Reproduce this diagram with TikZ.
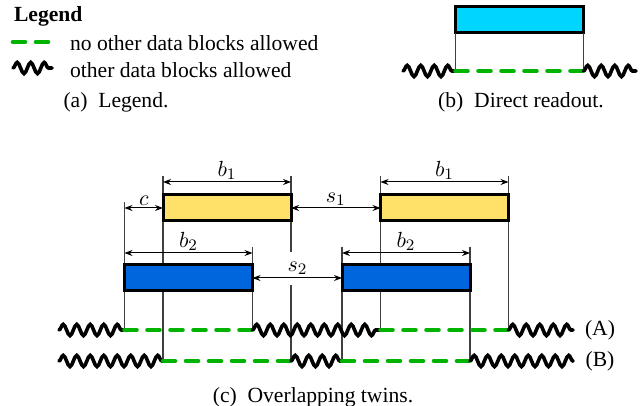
\documentclass[tikz,border=0pt]{standalone}
\usepackage[no-math]{fontspec}
\setmainfont{Liberation Serif}
\usepackage{tikz}
\usetikzlibrary{arrows.meta,calc,positioning,decorations.pathmorphing,backgrounds}
\definecolor{okg}{HTML}{00B300}
\definecolor{yel}{HTML}{FFE169}
\definecolor{blu}{HTML}{0066DD}
\definecolor{cya}{HTML}{00D5FF}

\begin{document}
\begin{tikzpicture}[x=0.5pt,y=-0.5pt,font=\fontsize{10.8}{13}\selectfont,>=Stealth,
  blk/.style={draw=black,line width=1.5pt,minimum width=64pt,minimum height=13pt,
    inner sep=0pt,outer sep=0pt},
  free/.style={draw=black,line width=1.8pt,line cap=round,decorate,
    decoration={snake,segment length=6.75pt,amplitude=2.8pt}},
  busy/.style={draw=okg,line width=2.3pt,line cap=round,dash pattern=on 6pt off 5.5pt},
  ext/.style={draw=black!75,line width=0.65pt},
  dimarr/.style={{Stealth[length=4pt,width=3pt]}-{Stealth[length=4pt,width=3pt]},line width=0.5pt},
  lbl/.style={above,inner sep=1pt}]
  \useasboundingbox (0,0) rectangle (643,406);

  % (a) legend
  \node[anchor=west] (legh) at (7,16) {\bfseries Legend};
  \coordinate (lg0) at (13,42); \coordinate (lg1) at (52,42);
  \coordinate (lw0) at (13,68); \coordinate (lw1) at (52,68);
  \draw[busy] (lg0) -- (lg1);
  \draw[free] (lw0) -- (lw1);
  \node[anchor=west] (lgt) at (63,43) {no other data blocks allowed};
  \node[anchor=west] (lwt) at (63,70) {other data blocks allowed};
  \node (capa) at (116,102) {(a)\enspace Legend.};

  % (b) direct readout
  \node[blk,fill=cya] (rd) at (519.5,20) {};
  \coordinate (rb0) at (403,71); \coordinate (rb9) at (636,71);
  \draw[ext] (rd.south west) -- (rd.south west |- rb0);
  \draw[ext] (rd.south east) -- (rd.south east |- rb0);
  \draw[free] (rb0) -- (rd.south west |- rb0);
  \draw[busy] (rd.south west |- rb0) -- (rd.south east |- rb0);
  \draw[free] (rd.south east |- rb0) -- (rb9);
  \node (capb) at (521,102) {(b)\enspace Direct readout.};

  % (c) overlapping twins
  \node[blk,fill=yel] (y1) at (227,208) {};
  \node[blk,fill=yel] (y2) at (444.5,208) {};
  \node[blk,fill=blu] (t1) at (188.5,278) {};
  \node[blk,fill=blu] (t2) at (406,278) {};
  \coordinate (A0) at (59,330); \coordinate (A9) at (573,330);
  \coordinate (B0) at (59,361); \coordinate (B9) at (573,361);

  \begin{scope}[on background layer]
    \draw[ext] (t1.west |- 0,202) -- (t1.west |- A0);
    \draw[ext] (y1.west |- 0,176) -- (y1.west |- B0);
    \draw[ext] (t1.east |- 0,247) -- (t1.east |- A0);
    \draw[ext] (y1.east |- 0,176) -- (y1.east |- B0);
    \draw[ext] (t2.west |- 0,247) -- (t2.west |- B0);
    \draw[ext] (y2.west |- 0,176) -- (y2.west |- A0);
    \draw[ext] (t2.east |- 0,247) -- (t2.east |- B0);
    \draw[ext] (y2.east |- 0,176) -- (y2.east |- A0);
  \end{scope}

  \draw[dimarr] (y1.west |- 0,182) -- node[lbl] {$b_1$} (y1.east |- 0,182);
  \draw[dimarr] (y2.west |- 0,182) -- node[lbl] {$b_1$} (y2.east |- 0,182);
  \draw[dimarr] (t1.west |- y1.west) -- node[lbl] {$c$} (y1.west);
  \draw[dimarr] (y1.east) -- node[lbl] {$s_1$} (y2.west);
  \draw[dimarr] (t1.west |- 0,253) -- node[lbl] {$b_2$} (t1.east |- 0,253);
  \draw[dimarr] (t2.west |- 0,253) -- node[lbl] {$b_2$} (t2.east |- 0,253);
  \node[fill=white,inner sep=1pt,minimum width=13pt,minimum height=16.5pt] (s2l) at (297.5,268.5) {$s_2$};
  \draw[dimarr] (t1.east) -- (t2.west);

  % line (A)
  \draw[free] (A0) -- (t1.west |- A0);
  \draw[busy] (t1.west |- A0) -- (t1.east |- A0);
  \draw[free] (t1.east |- A0) -- (y2.west |- A0);
  \draw[busy] (y2.west |- A0) -- (y2.east |- A0);
  \draw[free] (y2.east |- A0) -- (A9);
  % line (B)
  \draw[free] (B0) -- (y1.west |- B0);
  \draw[busy] (y1.west |- B0) -- (y1.east |- B0);
  \draw[free] (y1.east |- B0) -- (t2.west |- B0);
  \draw[busy] (t2.west |- B0) -- (t2.east |- B0);
  \draw[free] (t2.east |- B0) -- (B9);

  \node (la) at (600,330) {(A)};
  \node (lb) at (600,361) {(B)};
  \node (capc) at (313,397) {(c)\enspace Overlapping twins.};
\end{tikzpicture}
\end{document}
